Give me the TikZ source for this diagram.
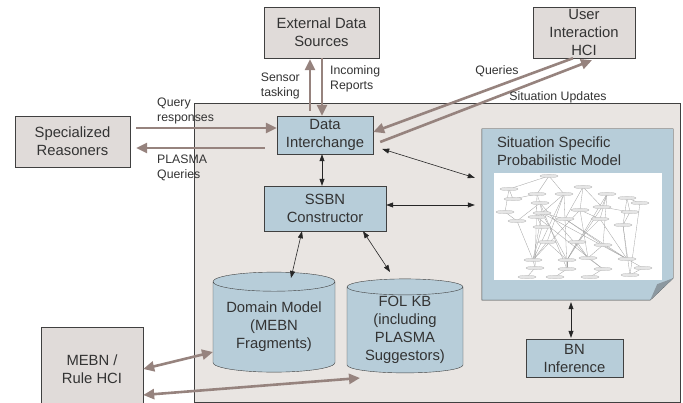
\documentclass[tikz,border=0pt]{standalone}
\usepackage{fontspec}
\setmainfont{Liberation Sans}
\usetikzlibrary{shapes.geometric,arrows.meta}
\definecolor{boxgray}{RGB}{224,219,217}
\definecolor{panelgray}{RGB}{233,229,226}
\definecolor{boxblue}{RGB}{183,205,217}
\definecolor{flowbrown}{RGB}{150,131,126}
\definecolor{foldgray}{RGB}{140,152,160}
\tikzset{
  extbox/.style={draw=black!75, fill=boxgray, align=center, inner sep=0pt,
    text=black!80, font=\fontsize{14.8}{18}\selectfont},
  intbox/.style={extbox, fill=boxblue},
  store/.style={intbox, cylinder, shape border rotate=90, aspect=0.2},
  flow/.style={draw=flowbrown, line width=2.6pt, -{Triangle[length=11pt,width=10pt]}},
  link/.style={draw=black!85, line width=0.6pt, {Triangle[length=7pt,width=5pt]}-{Triangle[length=7pt,width=5pt]}},
  tag/.style={align=left, inner sep=0pt, text=black!80, font=\fontsize{12.3}{15}\selectfont},
  gnode/.style={ellipse, draw=gray!70, fill=gray!20, line width=0.2pt, inner sep=0pt,
    minimum width=18pt, minimum height=3.5pt},
  gedge/.style={draw=gray!75, line width=0.3pt}
}
\begin{document}
\begin{tikzpicture}[x=1pt, y=-1pt]
  \useasboundingbox (0,0) rectangle (683,403);
  % panel
  \draw[draw=black!75, fill=panelgray] (194,103) rectangle (680,402);

  % outside boxes
  \node[extbox, minimum width=115, minimum height=51] (ext) at (321.5,32.5) {External Data\\Sources};
  \node[extbox, minimum width=102, minimum height=51] (hci) at (584,32.5) {User\\Interaction\\HCI};
  \node[extbox, minimum width=115, minimum height=51] (sr) at (72.5,141.5) {Specialized\\Reasoners};
  \node[extbox, minimum width=102, minimum height=84] (mebn) at (92,369) {MEBN /\\Rule HCI};

  % inside boxes
  \node[intbox, minimum width=96, minimum height=38] (di) at (325,135) {Data\\Interchange};
  \node[intbox, minimum width=122, minimum height=45] (ssbn) at (325,208.5) {SSBN\\Constructor};
  \node[intbox, minimum width=97, minimum height=38] (bn) at (574.5,358) {BN\\Inference};
  \node[store, minimum width=122, minimum height=100] (dm) at (274,327) {Domain Model\\(MEBN\\Fragments)};
  \node[store, minimum width=116, minimum height=94] (fol) at (405,330) {FOL KB\\(including\\PLASMA\\Suggestors)};

  % situation model with folded corner
  \node[minimum width=191, minimum height=171, inner sep=0pt] (sspm) at (577.5,214.5) {};
  \filldraw[draw=black!75, fill=boxblue] (sspm.north west) -- (sspm.north east)
    -- ([shift={(0,-22)}]sspm.south east) -- ([shift={(-23,0)}]sspm.south east)
    -- (sspm.south west) -- cycle;
  \fill[foldgray] ([shift={(-23,0)}]sspm.south east) -- ([shift={(0,-22)}]sspm.south east)
    -- ([shift={(-16,-16)}]sspm.south east) -- cycle;
  \node[tag, anchor=north west, font=\fontsize{14.8}{18}\selectfont] (title) at ([shift={(15,8)}]sspm.north west)
    {Situation Specific\\Probabilistic Model};
  \fill[white] (494,173) rectangle (662,280);

  % network picture
  \foreach \i/\x/\y in {1/549/176, 2/509/189, 3/583/187, 4/537/194, 5/564/194, 6/607/194,
      7/627/198, 8/513/199, 9/540/203, 10/602/207, 11/640/203, 12/505/212, 13/542/213,
      14/580/210, 15/630/212, 16/517/221, 17/537/217, 18/565/219, 19/600/219, 20/542/227,
      21/623/225, 22/547/242, 23/577/242, 24/603/245, 25/533/260, 26/567/260, 27/588/258,
      28/627/259, 29/535/268, 30/567/269, 31/603/269, 32/643/268, 33/527/277, 34/555/277,
      35/590/277, 36/630/275}
    \coordinate (g\i) at (\x,\y);
  \foreach \a/\b in {1/2, 1/4, 1/5, 2/8, 2/12, 4/9, 4/8, 5/13, 5/22, 5/25, 3/14, 3/10, 6/10,
      6/19, 6/24, 7/11, 7/15, 9/13, 9/16, 12/16, 13/17, 13/18, 13/25, 13/26, 17/20, 18/28,
      14/19, 14/27, 10/15, 19/28, 19/23, 20/25, 22/25, 22/26, 23/26, 23/27, 24/27, 24/28,
      15/21, 21/28, 21/36, 11/36, 25/29, 26/30, 27/31, 28/32, 29/33, 30/34, 31/35, 32/36,
      5/30, 14/25, 10/26, 17/31, 6/26, 3/18, 18/24, 9/27, 4/29, 16/25, 7/21, 13/28, 9/30}
    \draw[gedge] (g\a) -- (g\b);
  \foreach \i in {1,...,36}
    \node[gnode] at (g\i) {};

  % thick flows
  \draw[flow] ([shift={(-15,-5)}]di.north) -- ([shift={(-11.5,1)}]ext.south);
  \draw[flow] ([shift={(0.5,0)}]ext.south) -- ([shift={(-3,0)}]di.north);
  \draw[flow] ([shift={(6,-13.5)}]sr.east) -- ([shift={(0,-7)}]di.west);
  \draw[flow] ([shift={(-12,13)}]di.west) -- ([shift={(6,6.5)}]sr.east);
  \draw[flow] ([shift={(-11,0)}]hci.south) -- ([shift={(0,-3)}]di.east);
  \draw[flow] ([shift={(7,7)}]di.east) -- ([shift={(8,2)}]hci.south);
  \draw[flow, {Triangle[length=11pt,width=10pt]}-{Triangle[length=11pt,width=10pt]}]
    (mebn.east) -- ([shift={(-61,25)}]dm.center);
  \draw[flow, {Triangle[length=11pt,width=10pt]}-{Triangle[length=11pt,width=10pt]}]
    ([shift={(0,26)}]mebn.east) -- ([shift={(-45,48)}]fol.center);

  % thin links
  \draw[link] ([shift={(-3,0)}]di.south) -- ([shift={(-3,0)}]ssbn.north);
  \draw[link] ([shift={(9,14)}]di.east) -- ([shift={(-7,49)}]sspm.north west);
  \draw[link] ([shift={(0,-3.5)}]ssbn.east) -- ([shift={(-7,-9.5)}]sspm.west);
  \draw[link] ([shift={(-23,0)}]ssbn.south) -- ([shift={(17,-49)}]dm.center);
  \draw[link] ([shift={(38,0)}]ssbn.south) -- ([shift={(-15,-58)}]fol.center);
  \draw[link] ([shift={(-6.5,2)}]sspm.south) -- ([shift={(-3.5,-1)}]bn.north);

  % flow labels
  \node[tag, anchor=east, align=right] (sensor) at (300,85.5) {Sensor\\tasking};
  \node[tag, anchor=west] (incoming) at (330,79) {Incoming\\Reports};
  \node[tag, anchor=west] (qresp) at (157,110.5) {Query\\responses};
  \node[tag, anchor=west] (plasma) at (157,168) {PLASMA\\Queries};
  \node[tag] (queries) at (497,71) {Queries};
  \node[tag] (updates) at (558,97) {Situation Updates};
\end{tikzpicture}
\end{document}
